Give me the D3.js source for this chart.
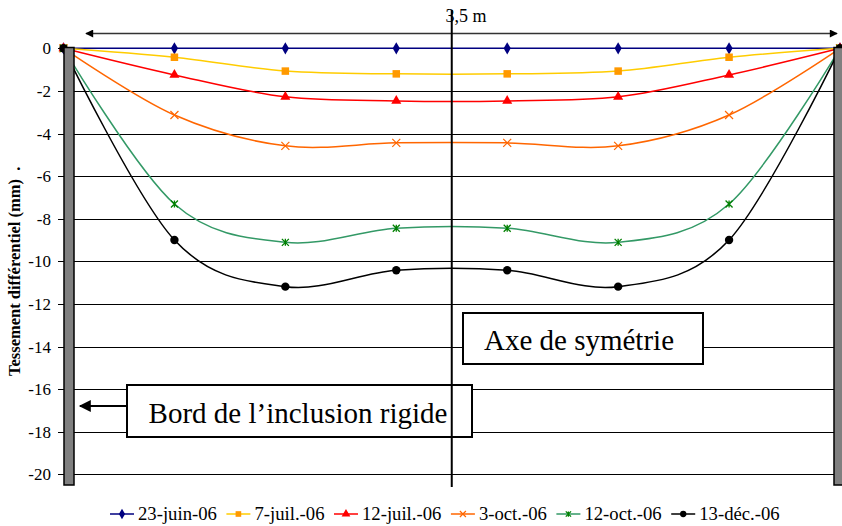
<!DOCTYPE html>
<html><head><meta charset="utf-8">
<script src="https://cdn.jsdelivr.net/npm/d3@7"></script>
<style>html,body{margin:0;padding:0;background:#fff;} svg{display:block;}</style>
</head><body>
<svg id="c" width="842" height="526"></svg>
<script>
// ---- data ----
const distances = [0, 0.5, 1, 1.5, 2, 2.5, 3, 3.5];
const seriesNames = ["23-juin-06", "7-juil.-06", "12-juil.-06", "3-oct.-06", "12-oct.-06", "13-déc.-06"];
const s23juin = [0, 0, 0, 0, 0, 0, 0, 0];
const s7juil = [0, -0.42, -1.07, -1.2, -1.2, -1.07, -0.42, 0];
const s12juil = [0, -1.25, -2.28, -2.47, -2.47, -2.28, -1.25, 0];
const s3oct = [0, -3.13, -4.58, -4.44, -4.44, -4.58, -3.13, 0];
const s12oct = [0, -7.31, -9.11, -8.45, -8.45, -9.11, -7.31, 0];
const s13dec = [0, -9.0, -11.19, -10.42, -10.42, -11.19, -9.0, 0];
const yTicks = [0, -2, -4, -6, -8, -10, -12, -14, -16, -18, -20];
const yTitle = "Tessement différentiel (mm)  .";
const spanLabel = "3,5 m";
const symLabel = "Axe de symétrie";
const edgeLabel = "Bord de l\u2019inclusion rigide";

const allSeries = [s23juin, s7juil, s12juil, s3oct, s12oct, s13dec];
const lineColors = ["#000080", "#FFCC00", "#FF0000", "#FF6600", "#339966", "#000000"];
const markColors = ["#000080", "#FF9900", "#FF0000", "#FF6600", "#008000", "#000000"];
const markTypes = ["diamond", "square", "triangle", "x", "star", "circle"];

const svg = d3.select("#c");
const font = "'Liberation Serif','Times New Roman',serif";

const x = d3.scaleLinear().domain([0, 3.5]).range([63.5, 840]);
const y = d3.scaleLinear().domain([0, -20]).range([48.3, 474.3]);

// gridlines + ticks
const g = svg.append("g");
yTicks.forEach(t => {
  const yy = Math.round(y(t)) + 0.5;
  g.append("line").attr("x1", 58).attr("x2", 834).attr("y1", yy).attr("y2", yy)
    .attr("stroke", "#000").attr("stroke-width", 1);
  g.append("text").attr("x", 51).attr("y", yy + 5.5).attr("text-anchor", "end")
    .attr("font-family", font).attr("font-size", 17).text(t);
});

// y title
svg.append("text")
  .attr("transform", "translate(20,376) rotate(-90)")
  .attr("font-family", font).attr("font-size", 16.5).attr("font-weight", "bold")
  .style("white-space", "pre").attr("xml:space", "preserve")
  .text(yTitle);

// series lines
const line = d3.line().x((d, i) => x(distances[i])).y(d => y(d)).curve(d3.curveCatmullRom.alpha(0));
allSeries.forEach((s, k) => {
  svg.append("path").attr("d", line(s)).attr("fill", "none")
    .attr("stroke", lineColors[k]).attr("stroke-width", 1.5);
});

function marker(sel, type, color, cx, cy, sc) {
  sc = sc || 1;
  if (type === "diamond") {
    sel.append("path").attr("d", d3.symbol(d3.symbolDiamond, 44 * sc)()).attr("transform", `translate(${cx},${cy})`).attr("fill", color);
  } else if (type === "square") {
    const w = 7.5 * sc;
    sel.append("rect").attr("x", cx - w / 2).attr("y", cy - w / 2).attr("width", w).attr("height", w).attr("fill", color);
  } else if (type === "triangle") {
    sel.append("path").attr("d", d3.symbol(d3.symbolTriangle, 44 * sc)()).attr("transform", `translate(${cx},${cy})`).attr("fill", color);
  } else if (type === "x") {
    const r = 4 * sc;
    sel.append("path").attr("d", `M${cx - r},${cy - r}L${cx + r},${cy + r}M${cx - r},${cy + r}L${cx + r},${cy - r}`)
      .attr("stroke", color).attr("stroke-width", 1.2);
  } else if (type === "star") {
    const r = 3.5 * sc;
    sel.append("path").attr("d", `M${cx - r},${cy - r}L${cx + r},${cy + r}M${cx - r},${cy + r}L${cx + r},${cy - r}M${cx},${cy - r}L${cx},${cy + r}`)
      .attr("stroke", color).attr("stroke-width", 1.3);
  } else if (type === "circle") {
    sel.append("circle").attr("cx", cx).attr("cy", cy).attr("r", 4.2 * sc).attr("fill", color);
  }
}

allSeries.forEach((s, k) => {
  const mg = svg.append("g");
  s.forEach((v, i) => marker(mg, markTypes[k], markColors[k], x(distances[i]), y(v)));
});

// pillars (rigid inclusion edges)
svg.append("rect").attr("x", 64).attr("y", 47.5).attr("width", 10).attr("height", 437.5)
  .attr("fill", "#808080").attr("stroke", "#000").attr("stroke-width", 1.5);
svg.append("rect").attr("x", 834).attr("y", 47.5).attr("width", 10).attr("height", 437.5)
  .attr("fill", "#808080").attr("stroke", "#000").attr("stroke-width", 1.5);

// top span arrow
const defs = svg.append("defs");
defs.append("marker").attr("id", "ah").attr("viewBox", "0 0 10 10").attr("refX", 9).attr("refY", 5)
  .attr("markerWidth", 10).attr("markerHeight", 8).attr("markerUnits", "userSpaceOnUse").attr("orient", "auto-start-reverse")
  .append("path").attr("d", "M0,0L10,5L0,10Z").attr("fill", "#000");
defs.append("marker").attr("id", "ah2").attr("viewBox", "0 0 10 10").attr("refX", 9).attr("refY", 5)
  .attr("markerWidth", 14).attr("markerHeight", 12).attr("markerUnits", "userSpaceOnUse").attr("orient", "auto")
  .append("path").attr("d", "M0,0L10,5L0,10Z").attr("fill", "#000");
svg.append("line").attr("x1", 86).attr("x2", 837).attr("y1", 33.5).attr("y2", 33.5)
  .attr("stroke", "#333").attr("stroke-width", 1.5)
  .attr("marker-start", "url(#ah)").attr("marker-end", "url(#ah)");
svg.append("text").attr("x", 466).attr("y", 22).attr("text-anchor", "middle")
  .attr("font-family", font).attr("font-size", 18).text(spanLabel);

// boxes
svg.append("rect").attr("x", 463).attr("y", 313).attr("width", 240).attr("height", 51)
  .attr("fill", "#fff").attr("stroke", "#000").attr("stroke-width", 2);
svg.append("text").attr("x", 579).attr("y", 350).attr("text-anchor", "middle")
  .attr("font-family", font).attr("font-size", 29).text(symLabel);

svg.append("rect").attr("x", 127).attr("y", 385).attr("width", 345).attr("height", 52)
  .attr("fill", "#fff").attr("stroke", "#000").attr("stroke-width", 2);
svg.append("text").attr("x", 298).attr("y", 423).attr("text-anchor", "middle")
  .attr("font-family", font).attr("font-size", 29).text(edgeLabel);
svg.append("line").attr("x1", 127).attr("x2", 80).attr("y1", 406).attr("y2", 406)
  .attr("stroke", "#000").attr("stroke-width", 2).attr("marker-end", "url(#ah2)");

// symmetry axis
svg.append("line").attr("x1", x(1.75)).attr("x2", x(1.75)).attr("y1", 10).attr("y2", 487)
  .attr("stroke", "#000").attr("stroke-width", 2);

// legend
const lg = svg.append("g");
let lx = 110;
const ly = 514;
seriesNames.forEach((n, k) => {
  lg.append("line").attr("x1", lx).attr("x2", lx + 24).attr("y1", ly).attr("y2", ly)
    .attr("stroke", lineColors[k]).attr("stroke-width", 1.5);
  marker(lg, markTypes[k], markColors[k], lx + 12, ly, 0.75);
  const t = lg.append("text").attr("x", lx + 28).attr("y", ly + 5.5)
    .attr("font-family", font).attr("font-size", 18.7).text(n);
  lx += 28 + t.node().getComputedTextLength() + 9.5;
});
</script>
</body></html>
